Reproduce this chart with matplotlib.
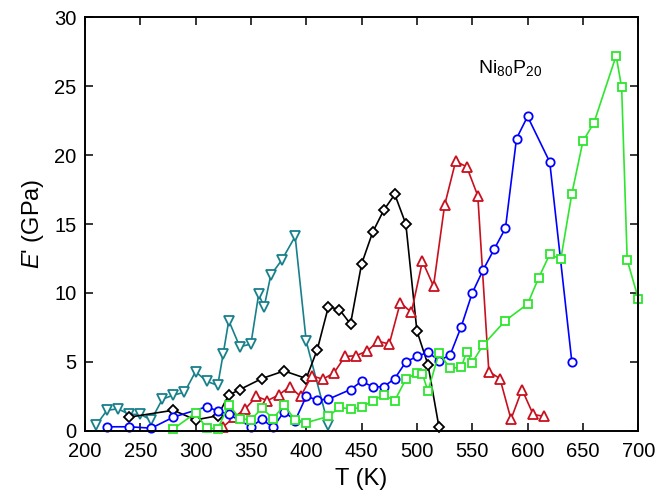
import matplotlib
matplotlib.use("Agg")
import matplotlib.pyplot as plt

plt.rcParams['font.family'] = ['Liberation Sans', 'DejaVu Sans']
plt.rcParams['mathtext.fontset'] = 'custom'
plt.rcParams['mathtext.rm'] = 'Liberation Sans'
plt.rcParams['mathtext.it'] = 'Liberation Sans:italic'

# teal, down triangles
t_teal = [210, 220, 230, 240, 250, 260, 270, 280, 290, 300, 310, 320, 325, 330, 340, 350,
          357, 362, 368, 378, 390, 400, 420]
e_teal = [0.4, 1.5, 1.6, 1.2, 1.2, 0.8, 2.3, 2.6, 2.8, 4.3, 3.6, 3.3, 5.6, 8.0, 6.1, 6.3,
          9.9, 9.0, 11.3, 12.4, 14.1, 6.5, 0.4]

# black diamonds
t_black = [240, 280, 300, 320, 330, 340, 360, 380, 400, 410, 420, 430, 440, 450, 460, 470,
           480, 490, 500, 510, 520]
e_black = [1.0, 1.5, 0.8, 1.1, 2.6, 3.0, 3.8, 4.35, 3.8, 5.9, 9.0, 8.8, 7.75, 12.1, 14.4, 16.0,
           17.15, 15.0, 7.25, 4.8, 0.25]

# red up triangles
t_red = [325, 335, 345, 355, 365, 375, 385, 395, 405, 415, 425, 435, 445, 455, 465, 475,
         485, 495, 505, 515, 525, 535, 545, 555, 565, 575, 585, 595, 605, 615]
e_red = [0.3, 1.0, 1.6, 2.5, 2.2, 2.6, 3.2, 2.5, 4.0, 3.75, 4.2, 5.4, 5.45, 5.8, 6.5, 6.3,
         9.3, 8.6, 12.3, 10.5, 16.35, 19.55, 19.15, 17.05, 4.3, 3.8, 0.85, 3.0, 1.2, 1.05]

# blue circles
t_blue = [220, 240, 260, 280, 310, 320, 330, 350, 360, 370, 380, 390, 400, 410, 420, 440,
          450, 460, 470, 480, 490, 500, 510, 520, 530, 540, 550, 560, 570, 580, 590, 600,
          620, 640]
e_blue = [0.3, 0.3, 0.2, 1.0, 1.75, 1.45, 1.2, 0.3, 0.85, 0.25, 1.4, 0.75, 2.5, 2.25, 2.3, 3.0,
          3.6, 3.2, 3.2, 3.8, 5.0, 5.4, 5.7, 5.1, 5.5, 7.55, 10.0, 11.7, 13.2, 14.7, 21.2, 22.8,
          19.5, 5.0]

# green squares
t_green = [280, 300, 310, 320, 330, 340, 350, 360, 370, 380, 390, 400, 420, 430, 440, 450,
           460, 470, 480, 490, 500, 505, 510, 520, 530, 540, 545, 550, 560, 580, 600, 610,
           620, 630, 640, 650, 660, 680, 685, 690, 700]
e_green = [0.15, 1.3, 0.2, 0.15, 1.9, 0.9, 0.8, 1.65, 0.9, 1.85, 0.8, 0.6, 1.05, 1.7, 1.6, 1.7,
           2.2, 2.6, 2.2, 3.75, 4.2, 4.1, 2.9, 5.65, 4.55, 4.6, 5.75, 4.95, 6.25, 8.0, 9.2, 11.1,
           12.8, 12.45, 17.2, 21.0, 22.35, 27.2, 24.9, 12.4, 9.6]

fig = plt.figure(figsize=(6.58, 5.04), dpi=100)
ax = fig.add_axes([0.129, 0.145, 0.841, 0.821])

series = [
    (t_teal, e_teal, '#17808a', 'v', 6.5),
    (t_black, e_black, 'black', 'D', 4.8),
    (t_red, e_red, '#c8101e', '^', 6.5),
    (t_blue, e_blue, '#0000ff', 'o', 6),
    (t_green, e_green, '#2ee62e', 's', 6),
]
for t, e, c, m, ms in series:
    ax.plot(t, e, color=c, lw=1.2, marker=m, ms=ms, mfc='white', mec=c, mew=1.3,
            clip_on=False)

ax.set_xlim(200, 700)
ax.set_ylim(0, 30)
ax.set_xticks(range(200, 701, 50))
ax.set_yticks(range(0, 31, 5))
ax.tick_params(direction='in', top=True, right=True, length=6, width=1.1,
               labelsize=14.5)
ax.tick_params(axis='x', pad=8)
ax.tick_params(axis='y', pad=6)
for s in ax.spines.values():
    s.set_linewidth(1.4)

ax.set_xlabel('T (K)', fontsize=17, labelpad=5)
ax.set_ylabel(r"$E$' (GPa)", fontsize=17, labelpad=6)
ax.text(555, 26.3, r'Ni$_{80}$P$_{20}$', fontsize=14, ha='left', va='center')

fig.savefig('out.png', dpi=100)
